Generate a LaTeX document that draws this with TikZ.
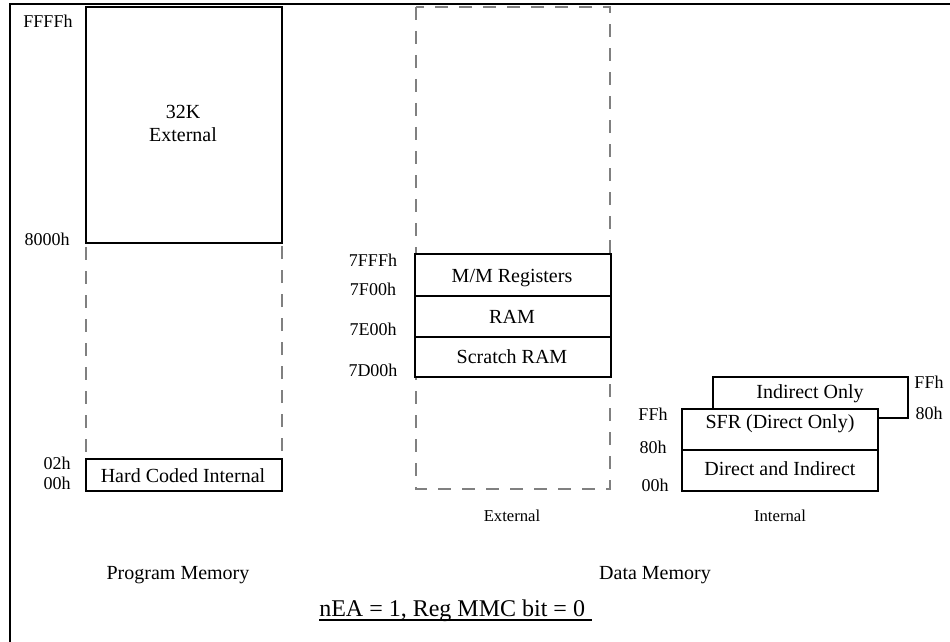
\documentclass[tikz,border=0pt]{standalone}
\usepackage{fontspec}
\setmainfont{Liberation Serif}
\begin{document}
\begin{tikzpicture}[x=0.75pt,y=-0.75pt,
  box/.style={draw=black,line width=1.2pt,fill=white},
  dbox/.style={draw=gray,line width=0.8pt,dash pattern=on 10pt off 8pt},
  lbl/.style={font=\fontsize{15}{18}\selectfont,anchor=base,inner sep=0pt},
  hex/.style={font=\fontsize{13.5}{16}\selectfont,anchor=base,inner sep=0pt},
  sml/.style={font=\fontsize{12.5}{15}\selectfont,anchor=base,inner sep=0pt},
  frameline/.style={line width=2.2pt}]
\useasboundingbox (0,0) rectangle (950,642);
% frame
\draw[frameline] (10,642) -- (10,4) -- (950,4);
% ---------- Program memory ----------
\draw[dbox] (86,7) rectangle (282,491);
\draw[box] (86,7) rectangle (282,243);
\draw[box] (86,459) rectangle (282,491);
\node[lbl] (k32) at (183,118) {32K};
\node[lbl] (pext) at (183,142) {External};
\node[lbl] (hci) at (183,482) {Hard Coded Internal};
\node[hex] (ffff) at (48,28) {FFFFh};
\node[hex] (h8000) at (47,245) {8000h};
\node[hex] (h02) at (57,469) {02h};
\node[hex] (h00) at (57,489) {00h};
\node[lbl] (pm) at (178,579) {Program Memory};
% ---------- Data memory, external ----------
\draw[dbox] (416,7) rectangle (610,489);
\draw[box] (415,254) rectangle (611,296);
\draw[box] (415,296) rectangle (611,337);
\draw[box] (415,337) rectangle (611,377);
\node[lbl] (mm) at (512,282) {M/M Registers};
\node[lbl] (ram) at (512,323) {RAM};
\node[lbl] (sram) at (512,363) {Scratch RAM};
\node[hex] (h7fff) at (373,266) {7FFFh};
\node[hex] (h7f00) at (373,295) {7F00h};
\node[hex] (h7e00) at (373,335) {7E00h};
\node[hex] (h7d00) at (373,376) {7D00h};
\node[sml] (ext) at (512,521) {External};
% ---------- Data memory, internal ----------
\draw[box] (713,377) rectangle (908,418);
\draw[box] (682,409) rectangle (878,450);
\draw[box] (682,450) rectangle (878,491);
\node[lbl] (ind) at (810,398) {Indirect Only};
\node[lbl] (sfr) at (780,428) {SFR (Direct Only)};
\node[lbl] (dai) at (780,475) {Direct and Indirect};
\node[hex] (ffl) at (653,420) {FFh};
\node[hex] (h80l) at (653,453) {80h};
\node[hex] (h00l) at (655,491) {00h};
\node[hex] (ffr) at (929,388) {FFh};
\node[hex] (h80r) at (929,419) {80h};
\node[sml] (int) at (780,521) {Internal};
\node[lbl] (dm) at (655,579) {Data Memory};
% ---------- title ----------
\node[font=\fontsize{18}{22}\selectfont,anchor=base west,inner sep=0pt] (title) at (319,616) {nEA = 1, Reg MMC bit = 0};
\draw[line width=1pt] (319,620) -- (592,620);
\end{tikzpicture}
\end{document}
